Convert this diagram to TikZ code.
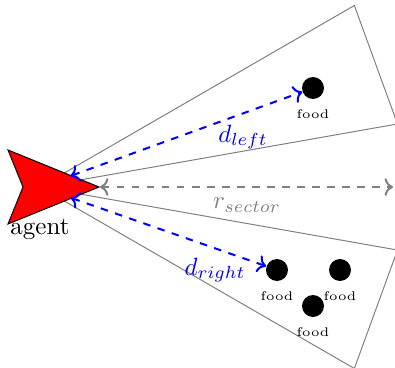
\documentclass[tikz,border=0pt]{standalone}
\usetikzlibrary{arrows.meta,positioning}
\tikzset{
  sectorline/.style={draw=gray,thin},
  food/.style={circle,fill=black,inner sep=0pt,minimum size=8.8pt},
  foodlabel/.style={font=\tiny,inner sep=1pt},
  dist/.style={<->,thick,dashed,blue,shorten <=13pt},
  radial/.style={<->,thick,dashed,gray}
}
\newcommand{\viewsector}[1]{\draw[sectorline] (0,0) -- (#1-10:363) -- (#1+10:363) -- cycle;}

\begin{document}
\begin{tikzpicture}[x=0.4pt,y=0.4pt]
\clip (-40,-181) rectangle (355,187);
\coordinate (agent) at (0,0);
\viewsector{20}\viewsector{-20}
% agent
\draw[fill=red] (-32,37) -- (59,0) -- (-32,-37) -- (-17,0) -- cycle;
\coordinate (tip) at (60,0);
\coordinate (rend) at (353,0);
\node (agentlabel) at (0,-42) {agent};
% food
\node[food] (f1) at (273,99) {};
\node[food] (f2) at (237,-83) {};
\node[food] (f3) at (300,-83) {};
\node[food] (f4) at (273,-119) {};
\node[foodlabel,below=3pt of f1] (l1) {food};
\node[foodlabel,below=3pt of f2] (l2) {food};
\node[foodlabel,below=3pt of f3] (l3) {food};
\node[foodlabel,below=3pt of f4] (l4) {food};
% distances
\draw[dist] (agent) -- (f1);
\draw[dist] (agent) -- (f2);
\draw[radial] (tip) -- (rend);
\node[blue] (dl) at (203,50) {$d_{left}$};
\node[blue] (dr) at (175,-83) {$d_{right}$};
\node[gray] (rs) at (207,-18) {$r_{sector}$};
\end{tikzpicture}
\end{document}
